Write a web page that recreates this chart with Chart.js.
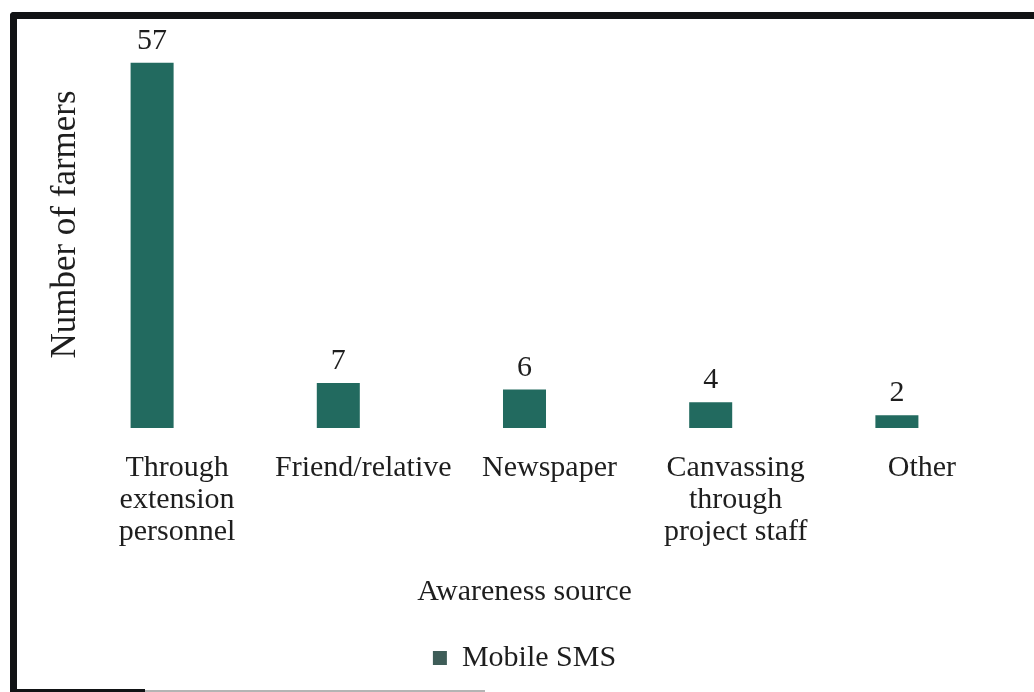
<!DOCTYPE html>
<html>
<head>
<meta charset="utf-8">
<script src="https://cdn.jsdelivr.net/npm/chart.js@4/dist/chart.umd.min.js"></script>
<style>
  html, body { margin: 0; padding: 0; background: #ffffff; }
  #wrap { position: relative; width: 1034px; height: 692px; overflow: hidden; }
  canvas { display: block; }
  .edge { position: absolute; background: #111315; }
</style>
</head>
<body>
<div id="wrap">
  <canvas id="chart" width="1034" height="692"></canvas>
  <!-- frame around the figure -->
  <div class="edge" style="left:10px; top:12px; width:1024px; height:7px; border-top-left-radius:4px;"></div>
  <div class="edge" style="left:10px; top:12px; width:7px; height:680px; border-top-left-radius:4px;"></div>
  <div class="edge" style="left:10px; top:689px; width:135px; height:3px;"></div>
  <div class="edge" style="left:145px; top:690px; width:340px; height:2px; background:#b4b4b4;"></div>
</div>
<script>
// Awareness sources and number of farmers for each
const categories = [
  ["Through", "extension", "personnel"],
  ["Friend/relative"],
  ["Newspaper"],
  ["Canvassing", "through", "project staff"],
  ["Other"]
];
const farmers = [57, 7, 6, 4, 2];
const seriesName = "Mobile SMS";
const yTitle = "Number of farmers";
const xTitle = "Awareness source";

const serif = "'Liberation Serif', 'Times New Roman', serif";
const textColor = "#1e1e1e";
const barColor = "#226a5f";
const legendSwatch = "#3e5d58";

// Writes each bar's value centred above it
const valueLabels = {
  id: "valueLabels",
  afterDatasetsDraw(chart) {
    const ctx = chart.ctx;
    const meta = chart.getDatasetMeta(0);
    const values = chart.data.datasets[0].data;
    ctx.save();
    ctx.font = "30px " + serif;
    ctx.fillStyle = textColor;
    ctx.textAlign = "center";
    ctx.textBaseline = "alphabetic";
    meta.data.forEach((bar, i) => {
      ctx.fillText(String(values[i]), bar.x, bar.y - 14);
    });
    ctx.restore();
  }
};

new Chart(document.getElementById("chart"), {
  type: "bar",
  data: {
    labels: categories,
    datasets: [{
      label: seriesName,
      data: farmers,
      backgroundColor: barColor,
      borderWidth: 0,
      categoryPercentage: 1.0,
      barPercentage: 0.231
    }]
  },
  options: {
    responsive: false,
    animation: false,
    layout: { padding: { left: 45, right: 44, top: 21, bottom: 9 } },
    plugins: {
      tooltip: { enabled: false },
      legend: {
        position: "bottom",
        fullSize: false,
        labels: {
          font: { family: serif, size: 30 },
          color: textColor,
          boxWidth: 14,
          boxHeight: 14,
          padding: 10,
          generateLabels(chart) {
            const ds = chart.data.datasets[0];
            return [{
              text: ds.label,
              fillStyle: legendSwatch,
              strokeStyle: legendSwatch,
              lineWidth: 0,
              fontColor: textColor,
              datasetIndex: 0,
              hidden: false
            }];
          }
        }
      }
    },
    scales: {
      x: {
        grid: { display: false, drawTicks: false },
        border: { display: false },
        ticks: {
          font: { family: serif, size: 30, lineHeight: 1.067 },
          color: textColor,
          padding: 24,
          labelOffset: 25,
          maxRotation: 0,
          autoSkip: false
        },
        title: {
          display: true,
          text: xTitle,
          font: { family: serif, size: 30, lineHeight: 1.2 },
          color: textColor,
          padding: { top: 2, bottom: 23 }
        }
      },
      y: {
        min: 0,
        max: 63.5,
        grid: { display: false, drawTicks: false },
        border: { display: false },
        ticks: { display: false },
        title: {
          display: true,
          text: yTitle,
          font: { family: serif, size: 35, lineHeight: 1.2 },
          color: textColor,
          padding: { top: 0, bottom: 0 }
        },
        afterFit(scale) { scale.width = 14; }
      }
    }
  },
  plugins: [valueLabels]
});
</script>
</body>
</html>
